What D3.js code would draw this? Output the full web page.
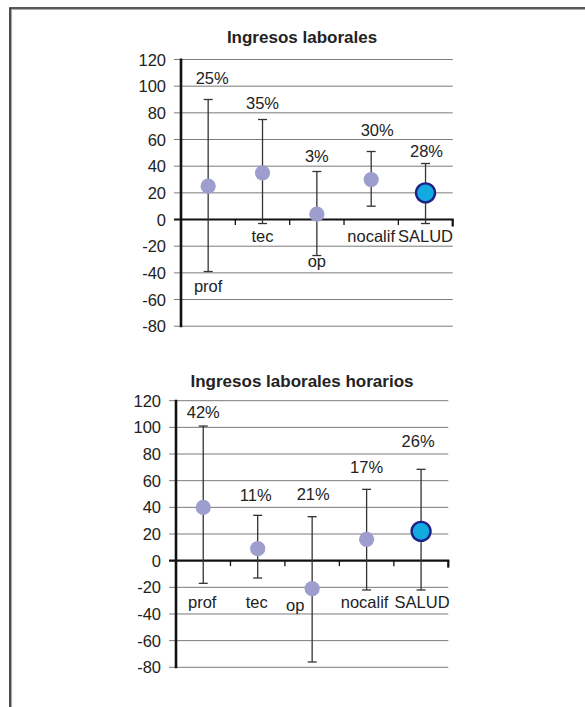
<!DOCTYPE html>
<html>
<head>
<meta charset="utf-8">
<script src="https://cdn.jsdelivr.net/npm/d3@7/dist/d3.min.js"></script>
<style>
  html, body { margin: 0; padding: 0; background: #fff; }
  svg { display: block; }
  text { font-family: Arial, "Liberation Sans", sans-serif; fill: #222; }
</style>
</head>
<body>
<svg id="chart" width="585" height="707"></svg>
<script>
// ---------- data ----------
const categories = ["prof", "tec", "op", "nocalif", "SALUD"];
const yTicks = [120, 100, 80, 60, 40, 20, 0, -20, -40, -60, -80];

// Chart 1: Ingresos laborales
const title1 = "Ingresos laborales";
const point1 = [25, 35, 4, 30, 20];
const upper1 = [90, 75, 36, 51, 42];
const lower1 = [-39, -3, -27, 10, -3];
const pctLabels1 = ["25%", "35%", "3%", "30%", "28%"];
const pctLabelAt1 = [102, 83, 43, 63, 47];      // value where each % label sits
const catLabelAt1 = [-54, -16.6, -35.4, -16.6, -16.6];

// Chart 2: Ingresos laborales horarios
const title2 = "Ingresos laborales horarios";
const point2 = [40, 9, -21, 16, 22];
const upper2 = [101, 34, 33, 53.5, 68.5];
const lower2 = [-17, -13, -76, -22, -22];
const pctLabels2 = ["42%", "11%", "21%", "17%", "26%"];
const pctLabelAt2 = [107, 45, 45.5, 66, 85];
const catLabelAt2 = [-35.7, -35.7, -37.5, -35.7, -35.7];

// ---------- layout ----------
const svg = d3.select("#chart");

// frame
svg.append("path").attr("d", "M11.5,709 V9.5 H590").attr("fill", "none")
  .attr("stroke", "#aaa").attr("stroke-width", 1.2);
svg.append("path").attr("d", "M10,709 V8 H590").attr("fill", "none")
  .attr("stroke", "#222").attr("stroke-width", 1.6);

const charts = [
  { title: title1, point: point1, upper: upper1, lower: lower1,
    pct: pctLabels1, pctAt: pctLabelAt1, catAt: catLabelAt1,
    x0: 181, x1: 452.7, yTop: 59.5, yBot: 326.2, titleX: 302, titleY: 42.7,
    catDx: [0, 0, 0, 0, 0], pctDx: [4, 0, 0, 6, 1] },
  { title: title2, point: point2, upper: upper2, lower: lower2,
    pct: pctLabels2, pctAt: pctLabelAt2, catAt: catLabelAt2,
    x0: 176, x1: 448.3, yTop: 400.7, yBot: 667.3, titleX: 302, titleY: 386.7,
    catDx: [-1, -1, -17, -2, 1], pctDx: [0, -2, 1, 0, -3] }
];

charts.forEach(c => {
  const g = svg.append("g");
  const x = d3.scaleBand().domain(categories).range([c.x0, c.x1]).padding(0);
  const y = d3.scaleLinear().domain([-80, 120]).range([c.yBot, c.yTop]);

  // title
  g.append("text").attr("x", c.titleX).attr("y", c.titleY)
    .attr("text-anchor", "middle").attr("font-size", 17).attr("font-weight", "bold")
    .attr("fill", "#222").text(c.title);

  // gridlines + y tick marks
  g.selectAll(".grid").data(yTicks.filter(t => t !== 0)).enter().append("line")
    .attr("x1", c.x0 - 7).attr("x2", c.x1)
    .attr("y1", d => y(d)).attr("y2", d => y(d))
    .attr("stroke", "#7a7a7a").attr("stroke-width", 1);

  // y tick labels
  g.selectAll(".ytl").data(yTicks).enter().append("text")
    .attr("x", c.x0 - 15).attr("y", d => y(d) + 6)
    .attr("text-anchor", "end").attr("font-size", 16.5).attr("fill", "#222")
    .text(d => d);

  // x axis (at 0)
  g.append("line").attr("x1", c.x0 - 7).attr("x2", c.x1 + 1)
    .attr("y1", y(0)).attr("y2", y(0)).attr("stroke", "#111").attr("stroke-width", 2.2);
  const edges = categories.map(d => x(d) + x.bandwidth());
  g.selectAll(".xt").data(edges).enter().append("line")
    .attr("x1", d => d).attr("x2", d => d)
    .attr("y1", y(0)).attr("y2", (d, i) => y(0) + (i === edges.length - 1 ? 7 : 5.5))
    .attr("stroke", "#111").attr("stroke-width", (d, i) => i === edges.length - 1 ? 2.2 : 1.3);

  // y axis
  g.append("line").attr("x1", c.x0).attr("x2", c.x0)
    .attr("y1", y(120) - 1).attr("y2", y(-80) + 1)
    .attr("stroke", "#111").attr("stroke-width", 2.6);

  const cx = d => x(d) + x.bandwidth() / 2;

  // error bars
  categories.forEach((cat, i) => {
    const xc = cx(cat);
    g.append("line").attr("x1", xc).attr("x2", xc)
      .attr("y1", y(c.upper[i])).attr("y2", y(c.lower[i]))
      .attr("stroke", "#333").attr("stroke-width", 1.3);
    [c.upper[i], c.lower[i]].forEach(v => {
      g.append("line").attr("x1", xc - 4.5).attr("x2", xc + 4.5)
        .attr("y1", y(v)).attr("y2", y(v))
        .attr("stroke", "#333").attr("stroke-width", 1.3);
    });
  });

  // points
  categories.forEach((cat, i) => {
    const last = cat === "SALUD";
    g.append("circle").attr("cx", cx(cat)).attr("cy", y(c.point[i]))
      .attr("r", last ? 9.5 : 7.6)
      .attr("fill", last ? "#13a9e1" : "#9d9dce")
      .attr("stroke", last ? "#1f2187" : "none")
      .attr("stroke-width", last ? 2.4 : 0);
  });

  // percent labels
  categories.forEach((cat, i) => {
    g.append("text").attr("x", cx(cat) + c.pctDx[i]).attr("y", y(c.pctAt[i]))
      .attr("text-anchor", "middle").attr("font-size", 16.5).attr("fill", "#222")
      .text(c.pct[i]);
  });

  // category labels
  categories.forEach((cat, i) => {
    g.append("text").attr("x", cx(cat) + c.catDx[i]).attr("y", y(c.catAt[i]))
      .attr("text-anchor", "middle").attr("font-size", 16.5).attr("fill", "#222")
      .text(cat);
  });
});
</script>
</body>
</html>
